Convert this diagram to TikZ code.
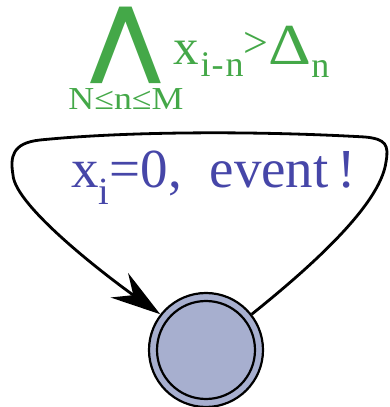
\documentclass[tikz,border=0pt]{standalone}
\usepackage{fontspec}
\setmainfont{Liberation Serif}
\newfontfamily\symfont{DejaVu Sans}
\usepackage{xcolor}
\usetikzlibrary{arrows.meta,positioning}

\definecolor{guardgreen}{RGB}{68,168,72}
\definecolor{syncblue}{RGB}{70,70,168}
\definecolor{locfill}{RGB}{167,175,207}

% text at a given size, lifted by the optional argument
\newcommand{\sized}[3][0pt]{\raisebox{#1}{\fontsize{#2}{#2}\selectfont #3}}

\begin{document}
\begin{tikzpicture}[x=1pt,y=1pt,
  loc/.style={circle,draw=black,line width=2.2pt,fill=locfill,minimum size=114pt,inner sep=0pt},
  edge/.style={line width=2.8pt,-{Stealth[length=50pt,width=30pt,inset=17pt]}},
  guard/.style={text=guardgreen,inner sep=0pt},
  sync/.style={text=syncblue,inner sep=0pt,font=\fontsize{55}{55}\selectfont}]
  \useasboundingbox (0,0) rectangle (389,407);
  % location with its inner ring
  \node[loc] (s) at (206,57) {};
  \draw[line width=2.2pt] (s.center) circle (49pt);
  % self loop
  \draw[edge] (s.38) .. controls (303,134) and (380,200) .. (386,245)
    .. controls (389,262) and (386,268) .. (365,270)
    .. controls (260,276) and (130,276) .. (40,267)
    .. controls (12,264) and (10,250) .. (13,232)
    .. controls (15,200) and (112,127) .. (s.142);
  % labels
  \node[sync,anchor=base west] (upd) at (71,219) {x\textsubscript{i}=0,\ \ event\,!};
  \node[guard,anchor=center] (all) at (126,362)
    {\symfont\bfseries\fontsize{84}{84}\selectfont ⋀};
  \node[guard,anchor=base] (rng) at (126,297)
    {\scalebox{1.12}[1]{\sized{32}{N≤n≤M}}};
  \node[guard,anchor=base west] (cond) at (173,342)
    {\sized{51}{x}\kern2pt\sized[-12pt]{36}{i\kern1pt-\kern2pt n}\sized[7pt]{44}{>}%
     \scalebox{1.15}[1]{\sized{58}{Δ}}\sized[-13pt]{36}{n}};
\end{tikzpicture}
\end{document}
